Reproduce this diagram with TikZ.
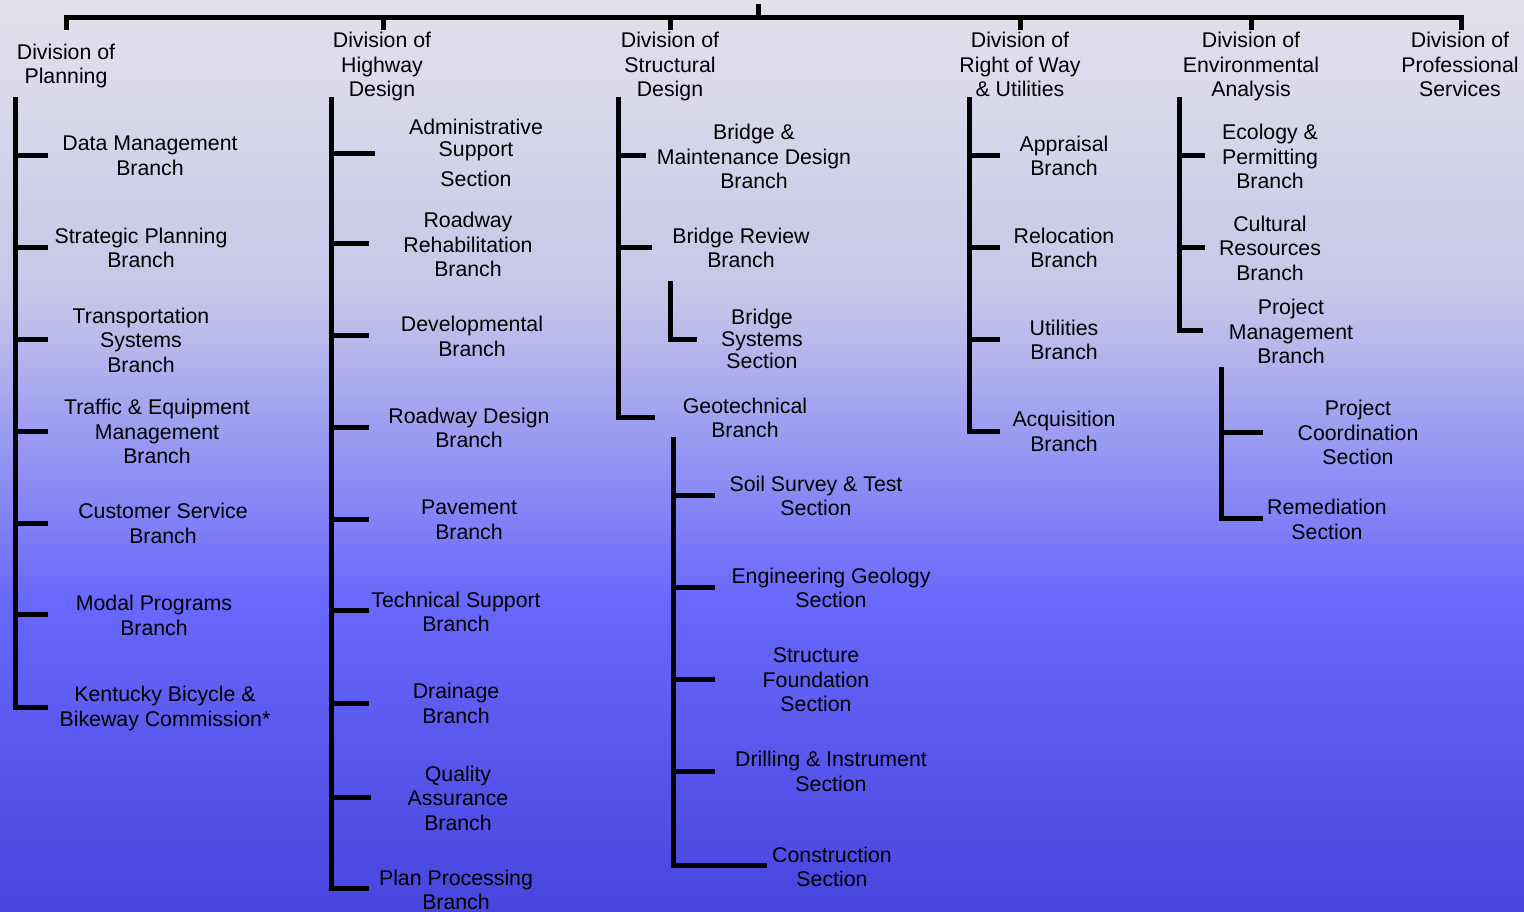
\documentclass[tikz,border=0pt]{standalone}
\usepackage{fontspec}
\setmainfont{Liberation Sans}
\definecolor{bgA}{RGB}{226,226,235}
\definecolor{bgB}{RGB}{197,197,233}
\definecolor{bgC}{RGB}{104,104,252}
\definecolor{bgD}{RGB}{70,70,222}
\tikzset{
  bar/.style={line width=5pt, black, line join=miter},
  lbl/.style={font=\fontsize{21.3}{24.5}\selectfont, align=center, inner sep=0pt, text=black},
}
\begin{document}
\begin{tikzpicture}[x=1pt,y=-1pt]
\useasboundingbox (0,0) rectangle (1524,911);
% background gradient
\shade[top color=bgA, bottom color=bgB] (0,0) rectangle (1524,301);
\shade[top color=bgB, bottom color=bgC] (0,300) rectangle (1524,601);
\shade[top color=bgC, bottom color=bgD] (0,600) rectangle (1524,911);

% ---------- top level ----------
\coordinate (root) at (758,4);
\coordinate (barL) at (66,17);
\coordinate (barR) at (1461,17);
\draw[bar] (root) -- (758,17);
\draw[bar] (66,30) -- (barL) -- (barR) -- (1461,30);
\foreach \x in {383,670,1020,1251} \draw[bar] (\x,17) -- (\x,30);

% ---------- division headers ----------
\node[lbl] (plan) at (66,66) {Division of\\Planning};
\node[lbl] (hwy) at (382,66.5) {Division of\\Highway\\Design};
\node[lbl] (str) at (670,66.5) {Division of\\Structural\\Design};
\node[lbl] (row) at (1020,64.5) {Division of\\Right of Way\\\& Utilities};
\node[lbl] (env) at (1251,66.5) {Division of\\Environmental\\Analysis};
\node[lbl] (pro) at (1460,64.5) {Division of\\Professional\\Services};

% ---------- Planning ----------
\coordinate (pltop) at (15,97);
\node[lbl] (dm) at (150,156) {Data Management\\Branch};
\node[lbl] (sp) at (141,248) {Strategic Planning\\Branch};
\node[lbl] (ts) at (141,340) {Transportation\\Systems\\Branch};
\node[lbl] (te) at (157,431.5) {Traffic \& Equipment\\Management\\Branch};
\node[lbl] (cs) at (163,523.5) {Customer Service\\Branch};
\node[lbl] (mp) at (154,615.5) {Modal Programs\\Branch};
\node[lbl] (kb) at (165,708.5) {Kentucky Bicycle \&\\Bikeway Commission*};
\coordinate (dm-t) at (48,155);
\coordinate (sp-t) at (48,247);
\coordinate (ts-t) at (48,339);
\coordinate (te-t) at (48,431);
\coordinate (cs-t) at (48,523);
\coordinate (mp-t) at (48,614);
\coordinate (kb-t) at (48,707);
\draw[bar] (pltop) -- (pltop |- kb-t) -- (kb-t);
\foreach \n in {dm,sp,ts,te,cs,mp} \draw[bar] (pltop |- \n-t) -- (\n-t);

% ---------- Highway Design ----------
\coordinate (hwtop) at (331,97);
\node[lbl, font=\fontsize{21.3}{22}\selectfont] (as) at (476,153) {Administrative\\Support\\[8pt]Section};
\node[lbl] (rr) at (468,244.5) {Roadway\\Rehabilitation\\Branch};
\node[lbl] (dv) at (472,336.5) {Developmental\\Branch};
\node[lbl] (rd) at (469,428) {Roadway Design\\Branch};
\node[lbl] (pv) at (469,520) {Pavement\\Branch};
\node[lbl] (tsb) at (456,612) {Technical Support\\Branch};
\node[lbl] (dr) at (456,703.5) {Drainage\\Branch};
\node[lbl] (qa) at (458,798) {Quality\\Assurance\\Branch};
\node[lbl] (pp) at (456,890) {Plan Processing\\Branch};
\coordinate (as-t) at (375,153);
\coordinate (rr-t) at (369,243);
\coordinate (dv-t) at (369,335);
\coordinate (rd-t) at (369,427);
\coordinate (pv-t) at (369,519);
\coordinate (tsb-t) at (369,610);
\coordinate (dr-t) at (369,703);
\coordinate (qa-t) at (371,797);
\coordinate (pp-t) at (369,888);
\draw[bar] (hwtop) -- (hwtop |- pp-t) -- (pp-t);
\foreach \n in {as,rr,dv,rd,pv,tsb,dr,qa} \draw[bar] (hwtop |- \n-t) -- (\n-t);

% ---------- Structural Design ----------
\coordinate (sttop) at (618,97);
\node[lbl] (bm) at (754,156.5) {Bridge \&\\Maintenance Design\\Branch};
\node[lbl] (br) at (741,248) {Bridge Review\\Branch};
\node[lbl, font=\fontsize{21.3}{22}\selectfont] (bs) at (762,339) {Bridge\\Systems\\Section};
\node[lbl] (gt) at (745,418) {Geotechnical\\Branch};
\coordinate (bm-t) at (646,155);
\coordinate (br-t) at (652,247);
\coordinate (gt-t) at (655,417);
\draw[bar] (sttop) -- (sttop |- gt-t) -- (gt-t);
\foreach \n in {bm,br} \draw[bar] (sttop |- \n-t) -- (\n-t);
% bridge systems
\coordinate (bstop) at (670,281);
\coordinate (bs-t) at (697,339);
\draw[bar] (bstop) -- (bstop |- bs-t) -- (bs-t);
% geotechnical sections
\coordinate (gttop) at (673,437);
\node[lbl] (ss) at (816,496) {Soil Survey \& Test\\Section};
\node[lbl] (eg) at (831,588) {Engineering Geology\\Section};
\node[lbl] (sf) at (816,680) {Structure\\Foundation\\Section};
\node[lbl] (di) at (831,771.5) {Drilling \& Instrument\\Section};
\node[lbl] (co) at (832,867) {Construction\\Section};
\coordinate (ss-t) at (715,495);
\coordinate (eg-t) at (715,587);
\coordinate (sf-t) at (715,679);
\coordinate (di-t) at (715,771);
\coordinate (co-t) at (767,865);
\draw[bar] (gttop) -- (gttop |- co-t) -- (co-t);
\foreach \n in {ss,eg,sf,di} \draw[bar] (gttop |- \n-t) -- (\n-t);

% ---------- Right of Way ----------
\coordinate (rwtop) at (969,97);
\node[lbl] (ap) at (1064,156) {Appraisal\\Branch};
\node[lbl] (rl) at (1064,248) {Relocation\\Branch};
\node[lbl] (ut) at (1064,340) {Utilities\\Branch};
\node[lbl] (aq) at (1064,431.5) {Acquisition\\Branch};
\coordinate (ap-t) at (1000,155);
\coordinate (rl-t) at (1000,247);
\coordinate (ut-t) at (1000,339);
\coordinate (aq-t) at (1000,431);
\draw[bar] (rwtop) -- (rwtop |- aq-t) -- (aq-t);
\foreach \n in {ap,rl,ut} \draw[bar] (rwtop |- \n-t) -- (\n-t);

% ---------- Environmental ----------
\coordinate (entop) at (1179,97);
\node[lbl] (ec) at (1270,156.5) {Ecology \&\\Permitting\\Branch};
\node[lbl] (cr) at (1270,248) {Cultural\\Resources\\Branch};
\node[lbl] (pm) at (1291,331.5) {Project\\Management\\Branch};
\coordinate (ec-t) at (1205,155);
\coordinate (cr-t) at (1205,247);
\coordinate (pm-t) at (1203,330);
\draw[bar] (entop) -- (entop |- pm-t) -- (pm-t);
\foreach \n in {ec,cr} \draw[bar] (entop |- \n-t) -- (\n-t);
\coordinate (pmtop) at (1221,367);
\node[lbl] (pc) at (1358,432.5) {Project\\Coordination\\Section};
\node[lbl] (rm) at (1327,519.5) {Remediation\\Section};
\coordinate (pc-t) at (1263,432);
\coordinate (rm-t) at (1263,518);
\draw[bar] (pmtop) -- (pmtop |- rm-t) -- (rm-t);
\draw[bar] (pmtop |- pc-t) -- (pc-t);
\end{tikzpicture}
\end{document}
